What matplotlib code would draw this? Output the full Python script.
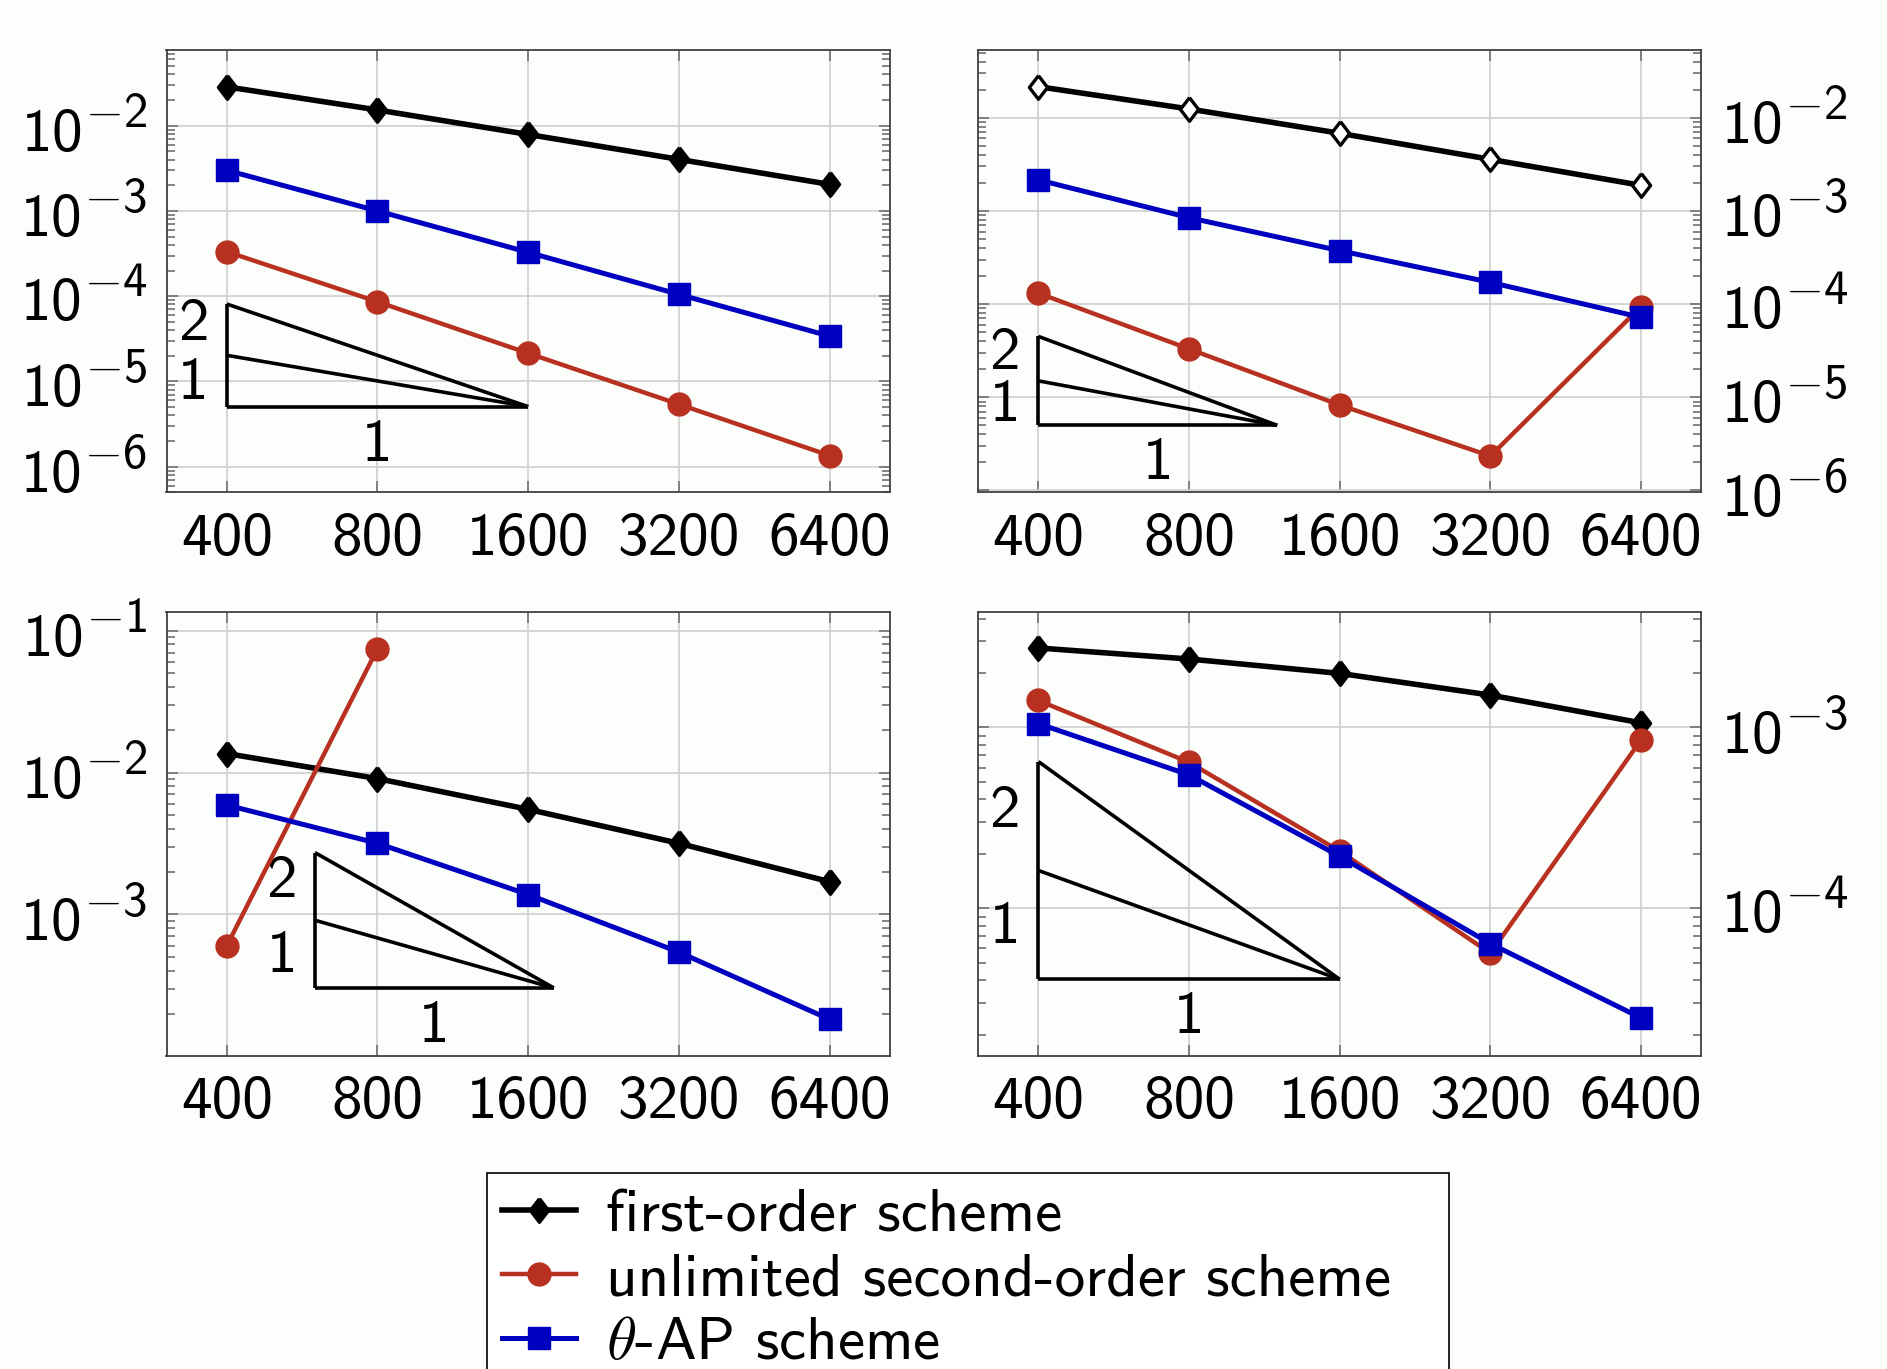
import numpy as np
import matplotlib
matplotlib.use("Agg")
import matplotlib.pyplot as plt
import matplotlib._mathtext as mathtext_internals
from matplotlib.ticker import LogLocator, FuncFormatter, NullLocator

# grid sizes
N = [400, 800, 1600, 3200, 6400]
N_LABELS = ["400", "800", "1600", "3200", "6400"]

# errors
first_a = [2.86e-2, 1.53e-2, 7.9e-3, 4.03e-3, 2.05e-3]
unlim_a = [3.33e-4, 8.6e-5, 2.14e-5, 5.4e-6, 1.35e-6]
theta_a = [3.0e-3, 1.0e-3, 3.27e-4, 1.05e-4, 3.4e-5]

first_b = [2.15e-2, 1.24e-2, 6.8e-3, 3.57e-3, 1.88e-3]
unlim_b = [1.31e-4, 3.3e-5, 8.26e-6, 2.34e-6, 9.4e-5]
theta_b = [2.15e-3, 8.45e-4, 3.74e-4, 1.71e-4, 7.2e-5]

first_c = [1.36e-2, 9.06e-3, 5.5e-3, 3.17e-3, 1.7e-3]
unlim_c = [6.0e-4, 7.46e-2]          # only 400 and 800
theta_c = [5.9e-3, 3.17e-3, 1.38e-3, 5.42e-4, 1.82e-4]

first_d = [2.75e-3, 2.39e-3, 1.99e-3, 1.51e-3, 1.06e-3]
unlim_d = [1.41e-3, 6.42e-4, 2.07e-4, 5.65e-5, 8.53e-4]
theta_d = [1.05e-3, 5.47e-4, 1.94e-4, 6.38e-5, 2.48e-5]

BLACK = "#000000"
RED = "#b83020"
BLUE = "#0000c0"
BG = "#fbfefb"

plt.rcParams.update({
    "font.family": "cmss10",
    "mathtext.fontset": "custom",
    "mathtext.rm": "cmss10",
    "mathtext.it": "cmss10",
    "mathtext.fallback": "cm",
    "font.size": 44,
    "axes.unicode_minus": False,
})
# exponents in the original are drawn larger than mathtext's default
mathtext_internals.SHRINK_FACTOR = 0.8

fig = plt.figure(figsize=(18.87, 13.69), dpi=100, facecolor=BG)
W, H = 1887, 1369


def rect(l, t, r, b):
    return [l / W, 1 - b / H, (r - l) / W, (b - t) / H]


axes = {
    "a": fig.add_axes(rect(166.5, 50, 889.8, 492.3)),
    "b": fig.add_axes(rect(978.1, 50, 1701.3, 491.7)),
    "c": fig.add_axes(rect(166.5, 611.5, 889.8, 1055.6)),
    "d": fig.add_axes(rect(978.1, 611.5, 1701.3, 1055.6)),
}

ylims = {
    "a": (5.0e-7, 7.73e-2),
    "b": (0.97e-6, 5.32e-2),
    "c": (1.01e-4, 0.1365),
    "d": (1.535e-5, 4.375e-3),
}

# slope triangles: x0, x1, base value
tri = {
    "a": (400, 1600, 5.06e-6),
    "b": (400, 1200, 5.0e-6),
    "c": (600, 1800, 3.03e-4),
    "d": (400, 1600, 4.05e-5),
}

series = {
    "a": (first_a, unlim_a, theta_a),
    "b": (first_b, unlim_b, theta_b),
    "c": (first_c, unlim_c, theta_c),
    "d": (first_d, unlim_d, theta_d),
}

DIAMOND = [(0, 1), (0.77, 0), (0, -1), (-0.77, 0), (0, 1)]


def decade(v, pos):
    return r"$10^{%d}$" % int(round(np.log10(v)))


handles = []
for key, ax in axes.items():
    ax.set_facecolor(BG)
    first, unlim, theta = series[key]
    hollow = key == "b"
    h1, = ax.plot(N, first, color=BLACK, lw=4.0, marker=DIAMOND, ms=17,
                  mfc="white" if hollow else BLACK, mec=BLACK, mew=2.4,
                  label="first-order scheme", zorder=3)
    h2, = ax.plot(N[:len(unlim)], unlim, color=RED, lw=3.2, marker="o",
                  ms=16.5, mfc=RED, mec=RED, label="unlimited second-order scheme",
                  zorder=4)
    h3, = ax.plot(N, theta, color=BLUE, lw=3.6, marker="s", ms=16,
                  mfc=BLUE, mec=BLUE, label=r"$\theta$-AP scheme", zorder=5)
    if key == "a":
        handles = [h1, h2, h3]

    x0, x1, yb = tri[key]
    r = x1 / x0
    y2, y1 = yb * r ** 2, yb * r
    kw = dict(color="black", lw=2.6, solid_capstyle="butt", zorder=2)
    ax.plot([x0, x0], [yb, y2], **kw)
    ax.plot([x0, x1], [yb, yb], **kw)
    ax.plot([x0, x1], [y2, yb], **kw)
    ax.plot([x0, x1], [y1, yb], **kw)
    ax.annotate("2", (x0, np.sqrt(y2 * y1)), xytext=(-24, 3),
                textcoords="offset points", ha="center", va="center")
    ax.annotate("1", (x0, np.sqrt(y1 * yb)), xytext=(-24, -2),
                textcoords="offset points", ha="center", va="center")
    ax.annotate("1", (np.sqrt(x0 * x1), yb), xytext=(0, -28),
                textcoords="offset points", ha="center", va="center")

    ax.set_xscale("log", base=2)
    ax.set_yscale("log")
    ax.set_xlim(400 / 2 ** 0.4, 6400 * 2 ** 0.4)
    ax.set_ylim(*ylims[key])
    ax.set_xticks(N, labels=N_LABELS)
    ax.xaxis.set_minor_locator(NullLocator())
    ax.yaxis.set_major_locator(LogLocator(base=10, numticks=20))
    ax.yaxis.set_minor_locator(LogLocator(base=10, subs=np.arange(2, 10),
                                          numticks=20))
    ax.yaxis.set_major_formatter(FuncFormatter(decade))

    right = key in ("b", "d")
    ax.tick_params(which="both", direction="in", left=True, right=True,
                   top=True, bottom=True, labelleft=not right,
                   labelright=right, color="#707070", width=1.2)
    ax.tick_params(which="major", length=8)
    ax.tick_params(which="minor", length=6)
    ax.tick_params(axis="y", pad=14)
    ax.tick_params(axis="x", pad=15)
    ax.grid(True, which="major", color="#d2d2d2", lw=1.3)
    ax.set_axisbelow(True)
    for s in ax.spines.values():
        s.set_color("#404040")
        s.set_linewidth(1.3)

leg = fig.legend(handles=handles, loc="upper left",
                 bbox_to_anchor=(487.2 / W, 0.0, (1449 - 487.2) / W,
                                 1 - 1173.3 / H),
                 mode="expand", borderaxespad=0, fancybox=False,
                 edgecolor="black", facecolor="white", framealpha=1,
                 handlelength=1.2, handletextpad=0.5, labelspacing=0.15,
                 borderpad=0.25)
leg.get_frame().set_linewidth(1.2)

fig.savefig("out.png", dpi=100, facecolor=BG)
